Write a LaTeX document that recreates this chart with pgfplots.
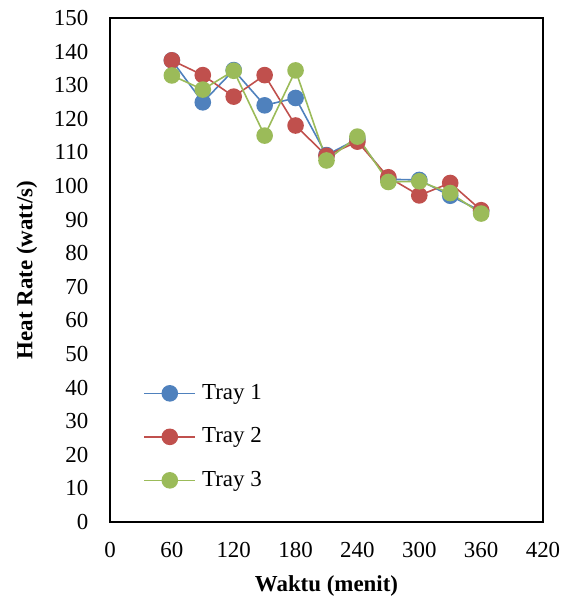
\documentclass[border=0pt]{standalone}
\usepackage{pgfplots}
\pgfplotsset{compat=1.18}
\usepackage{fontspec}
\setmainfont{Liberation Serif}
\definecolor{c1}{HTML}{4F81BD}
\definecolor{c2}{HTML}{C0504D}
\definecolor{c3}{HTML}{9BBB59}
\begin{document}
\fontsize{23}{27}\selectfont
\begin{tikzpicture}
\begin{axis}[
  name=ax,
  at={(0,0)}, anchor=south west,
  scale only axis, width=433bp, height=504bp,
  xmin=0, xmax=420, ymin=0, ymax=150,
  xtick={0,60,...,420}, ytick={0,10,...,150},
  major tick length=0pt,
  axis line style={line width=1.6pt},
  /pgf/number format/assume math mode=true,
  tick label style={font=\fontsize{23}{27}\selectfont},
  xlabel={\textbf{Waktu (menit)}},
  ylabel={\textbf{Heat Rate (watt/s)}},
  label style={font=\fontsize{23}{27}\selectfont},
  xticklabel style={yshift=-12pt},
  yticklabel style={xshift=-14pt},
  xlabel style={yshift=-3pt},
  ylabel style={yshift=1pt},
  legend style={at={(0.07,0.282)}, anchor=north west, draw=none, fill=none,
    font=\fontsize{23}{27}\selectfont, row sep=21pt},
  legend cell align=left,
  legend image code/.code={
    \draw[#1, mark=none] (0cm,0cm) -- (1.8cm,0cm);
    \draw[#1, only marks] plot coordinates {(0.9cm,0cm)};
  },
]
\addplot[c1, line width=1.6pt, mark=*, mark size=7.5bp, mark options={fill=c1, draw=c1}] coordinates {
(60,137.4)(90,124.9)(120,134.5)(150,124)(180,126.2)(210,109.2)(240,114)(270,102)(300,101.8)(330,97.1)(360,92.5)};
\addlegendentry{\hspace{4bp}Tray 1}
\addplot[c2, line width=1.6pt, mark=*, mark size=7.5bp, mark options={fill=c2, draw=c2}] coordinates {
(60,137.4)(90,133)(120,126.6)(150,133)(180,118)(210,109)(240,113.2)(270,102.6)(300,97.2)(330,100.9)(360,92.8)};
\addlegendentry{\hspace{4bp}Tray 2}
\addplot[c3, line width=1.6pt, mark=*, mark size=7.5bp, mark options={fill=c3, draw=c3}] coordinates {
(60,132.9)(90,128.7)(120,134.3)(150,115)(180,134.4)(210,107.6)(240,114.7)(270,101.2)(300,101.4)(330,97.9)(360,91.8)};
\addlegendentry{\hspace{4bp}Tray 3}
\end{axis}
\pgfresetboundingbox
\path (-110bp,-79bp) rectangle (458bp,522bp);
\end{tikzpicture}
\end{document}
